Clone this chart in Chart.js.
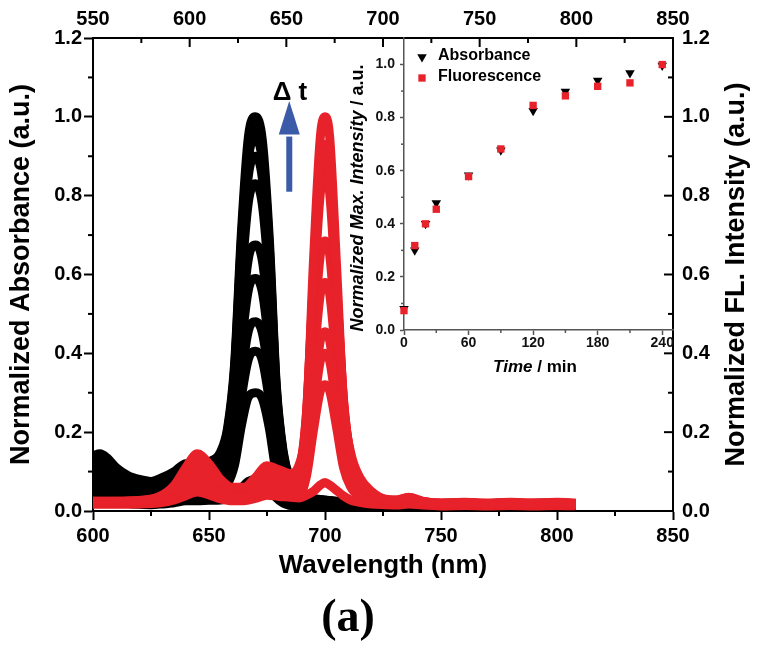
<!DOCTYPE html>
<html>
<head>
<meta charset="utf-8">
<script src="https://cdn.jsdelivr.net/npm/chart.js@4.4.1/dist/chart.umd.min.js"></script>
<style>
html,body{margin:0;padding:0;background:#fff;}
#wrap{position:relative;width:760px;height:652px;}
#wrap canvas{position:absolute;left:0;top:0;}
</style>
</head>
<body>
<div id="wrap">
<canvas id="mainChart" width="760" height="652"></canvas>
<canvas id="insetChart" width="760" height="652"></canvas>
</div>
<script>
// absorbance spectra (black), one row per time point
const absWl = [600,603,606,610,615,620,625,630,635,640,645,650,655,658,661,664,667,670,673,676,679,682,685,688,692,697,705,715,725,735,745,755,765,775,785,795,808];
const absSpectra = [
[.14,.145,.135,.11,.09,.08,.075,.085,.1,.12,.12,.125, .15,.21,.37,.71,.95,1.0,.94,.69,.32,.15,.08,.05,.035, .03,.025,.022,.02,.02,.018,.02,.017,.02,.018,.02,.017],
[.135,.14,.13,.106,.087,.077,.072,.082,.096,.116,.116,.12, .145,.203,.358,.688,.921,.97,.912,.669,.311,.145,.077,.048,.034, .029,.024,.021,.02,.019,.018,.019,.017,.019,.018,.019,.017],
[.13,.135,.125,.102,.084,.074,.07,.079,.093,.111,.111,.116, .139,.197,.348,.67,.896,.945,.888,.651,.302,.141,.075,.047,.033, .028,.024,.02,.019,.019,.017,.018,.016,.018,.017,.018,.016],
[.12,.124,.116,.094,.077,.069,.064,.073,.086,.103,.103,.107, .13,.184,.329,.635,.852,.90,.843,.619,.286,.134,.071,.044,.032, .027,.023,.02,.019,.018,.017,.018,.016,.017,.016,.018,.016],
[.11,.114,.106,.086,.071,.063,.059,.067,.079,.094,.094,.098, .119,.169,.303,.586,.785,.83,.777,.57,.263,.124,.066,.041,.029, .025,.022,.019,.018,.018,.016,.017,.015,.017,.016,.017,.015],
[.095,.098,.092,.075,.061,.054,.051,.058,.068,.081,.081,.085, .101,.143,.25,.48,.641,.675,.635,.466,.216,.101,.054,.034,.025, .022,.02,.018,.017,.017,.015,.016,.014,.016,.015,.016,.014],
[.085,.088,.082,.067,.055,.049,.046,.052,.061,.073,.073,.076, .091,.126,.22,.421,.562,.59,.555,.408,.189,.089,.047,.03,.023, .021,.019,.017,.016,.016,.014,.015,.014,.015,.014,.015,.013],
[.07,.073,.068,.055,.045,.04,.038,.043,.05,.06,.06,.063, .074,.103,.18,.343,.458,.48,.452,.332,.154,.073,.039,.024,.019, .018,.017,.015,.015,.015,.013,.014,.012,.014,.013,.014,.012],
[.06,.062,.058,.047,.039,.034,.032,.036,.043,.051,.051,.054, .063,.088,.152,.29,.386,.405,.382,.28,.13,.062,.033,.021,.017, .017,.016,.014,.014,.014,.012,.013,.012,.013,.012,.013,.011],
[.05,.052,.048,.039,.032,.029,.027,.03,.036,.043,.043,.045, .052,.069,.117,.218,.29,.30,.285,.21,.098,.047,.026,.016,.015, .015,.014,.013,.013,.013,.011,.012,.011,.012,.011,.012,.01],
[.03,.031,.029,.024,.019,.017,.016,.018,.021,.026,.026,.027, .028,.032,.043,.058,.075,.08,.075,.058,.034,.02,.014,.01,.009, .008,.008,.007,.007,.007,.006,.007,.006,.007,.006,.007,.006]
];

// fluorescence spectra (red)
const flWl = [600,610,620,628,635,640,645,650,655,660,665,670,675,680,685,689,692,695,698,700,702,705,708,711,715,720,726,731,736,742,750,760,770,780,790,800,808];
const flSpectra = [
[.025,.025,.027,.035,.065,.11,.145,.12,.08,.06,.06,.085,.115,.105,.095, .12,.23,.63,.95,1.0,.95,.62,.27,.15,.085,.05, .03,.028,.035,.025,.02,.022,.02,.022,.02,.022,.02],
[.025,.025,.026,.034,.062,.105,.138,.114,.077,.058,.058,.081,.11,.1,.091, .113,.248,.587,.884,.93,.884,.578,.28,.141,.08,.048, .029,.027,.034,.024,.02,.021,.019,.021,.02,.021,.019],
[.024,.024,.026,.033,.06,.1,.132,.11,.074,.056,.056,.078,.105,.096,.087, .109,.243,.579,.875,.92,.875,.572,.278,.14,.079,.047, .028,.027,.033,.024,.019,.021,.019,.02,.019,.021,.019],
[.023,.023,.025,.032,.057,.096,.126,.104,.07,.053,.053,.074,.1,.091,.083, .105,.233,.557,.841,.885,.841,.551,.268,.135,.077,.046, .028,.026,.032,.023,.019,.02,.018,.02,.019,.02,.018],
[.023,.023,.025,.031,.055,.091,.119,.099,.067,.051,.051,.071,.095,.087,.079, .1,.223,.534,.807,.85,.807,.53,.258,.13,.075,.045, .027,.026,.031,.023,.019,.02,.018,.019,.018,.02,.018],
[.022,.022,.023,.029,.05,.082,.106,.089,.061,.047,.047,.064,.085,.078,.071, .083,.183,.432,.651,.685,.651,.431,.212,.109,.063,.039, .025,.024,.028,.021,.018,.019,.017,.018,.017,.019,.017],
[.021,.021,.022,.027,.045,.072,.093,.078,.054,.042,.042,.057,.075,.069,.063, .071,.155,.366,.551,.58,.551,.368,.182,.095,.056,.035, .024,.023,.026,.02,.017,.018,.016,.017,.016,.018,.016],
[.02,.02,.021,.025,.04,.063,.08,.068,.048,.038,.038,.05,.065,.06,.055, .057,.123,.288,.433,.455,.433,.293,.147,.079,.047,.031, .022,.021,.024,.019,.016,.017,.015,.016,.015,.017,.015],
[.02,.02,.02,.024,.038,.058,.074,.062,.044,.035,.035,.047,.06,.056,.051, .051,.108,.254,.381,.40,.381,.26,.132,.072,.043,.029, .021,.02,.023,.018,.016,.016,.015,.016,.015,.016,.015],
[.019,.019,.02,.023,.035,.053,.067,.057,.041,.033,.033,.043,.055,.051,.047, .042,.088,.204,.305,.32,.305,.212,.11,.062,.037,.026, .02,.019,.022,.017,.015,.016,.014,.015,.014,.016,.014],
[.017,.017,.018,.02,.028,.039,.048,.041,.031,.026,.026,.032,.04,.037,.035, .033,.04,.05,.066,.072,.066,.052,.038,.028,.022,.018, .016,.015,.018,.015,.013,.014,.013,.014,.013,.014,.013]
];

// inset: normalized maximum vs time
const times = [0,10,20,30,60,90,120,150,180,210,240];
const absMax = [0.08,0.30,0.40,0.478,0.583,0.677,0.826,0.898,0.94,0.968,0.996];
const flMax = [0.073,0.318,0.40,0.455,0.578,0.682,0.846,0.882,0.918,0.931,1.0];

// tick values
const wlMinor = [625,675,725,775,825];
const topMajor = [550,600,650,700,750,800,850];
const topMinor = [575,625,675,725,775,825];
const yMajor = [0,0.2,0.4,0.6,0.8,1.0,1.2];
const yMinor = [0.1,0.3,0.5,0.7,0.9,1.1];
const tMinor = [30,90,150,210];
const insetYMinor = [0.1,0.3,0.5,0.7,0.9];

const RED = '#e8222a';
const BLUE = '#3b5ba9';
const FONT = '"Liberation Sans", Arial, sans-serif';

Chart.defaults.font.family = FONT;
Chart.defaults.color = '#000';

const absDatasets = absSpectra.map(vals => ({
  data: vals.map((v, i) => ({x: absWl[i], y: v})),
  borderColor: '#000',
  borderWidth: 9,
  pointRadius: 0,
  cubicInterpolationMode: 'monotone',
  fill: false,
  order: 2
}));

const flDatasets = flSpectra.map(vals => ({
  data: vals.map((v, i) => ({x: flWl[i], y: v})),
  borderColor: RED,
  borderWidth: 9,
  pointRadius: 0,
  cubicInterpolationMode: 'monotone',
  fill: false,
  order: 1
}));

function line(ctx, x1, y1, x2, y2){
  ctx.beginPath();
  ctx.moveTo(x1, y1);
  ctx.lineTo(x2, y2);
  ctx.stroke();
}

const mainDecor = {
  id: 'mainDecor',
  afterDraw(chart){
    const ctx = chart.ctx;
    const a = chart.chartArea;
    const sx = chart.scales.x, sx2 = chart.scales.x2, sy = chart.scales.y, sy2 = chart.scales.y2;
    ctx.save();
    ctx.strokeStyle = '#000';
    ctx.lineWidth = 2;
    wlMinor.forEach(v => { const p = sx.getPixelForValue(v); line(ctx, p, a.bottom, p, a.bottom + 5); });
    yMinor.forEach(v => { const p = sy.getPixelForValue(v); line(ctx, a.left - 5, p, a.left, p); });
    topMajor.forEach(v => { const p = sx2.getPixelForValue(v); line(ctx, p, a.top, p, a.top + 9); });
    topMinor.forEach(v => { const p = sx2.getPixelForValue(v); line(ctx, p, a.top, p, a.top + 5); });
    yMajor.forEach(v => { const p = sy2.getPixelForValue(v); line(ctx, a.right - 9, p, a.right, p); });
    yMinor.forEach(v => { const p = sy2.getPixelForValue(v); line(ctx, a.right - 5, p, a.right, p); });

    // right axis title, reading bottom to top
    ctx.save();
    ctx.translate(737, (a.top + a.bottom) / 2);
    ctx.rotate(-Math.PI / 2);
    ctx.font = 'bold 27px ' + FONT;
    ctx.fillStyle = '#000';
    ctx.textAlign = 'center';
    ctx.textBaseline = 'middle';
    ctx.fillText('Normalized FL. Intensity (a.u.)', 0, 0);
    ctx.restore();

    // time arrow
    const ax = sx.getPixelForValue(684.6);
    const yBot = sy.getPixelForValue(0.81);
    const yBase = sy.getPixelForValue(0.955);
    const yTip = sy.getPixelForValue(1.04);
    ctx.strokeStyle = BLUE;
    ctx.fillStyle = BLUE;
    ctx.lineWidth = 6;
    line(ctx, ax, yBot, ax, yBase + 2);
    ctx.beginPath();
    ctx.moveTo(ax - 10.5, yBase);
    ctx.lineTo(ax + 10.5, yBase);
    ctx.lineTo(ax, yTip);
    ctx.closePath();
    ctx.fill();

    ctx.fillStyle = '#000';
    ctx.font = 'bold 26px ' + FONT;
    ctx.textAlign = 'center';
    ctx.textBaseline = 'alphabetic';
    ctx.fillText('\u0394 t', sx.getPixelForValue(684.9), sy.getPixelForValue(1.043));

    ctx.font = 'bold 46px "Liberation Serif", "Times New Roman", serif';
    ctx.fillText('(a)', 348, 631);
    ctx.restore();
  }
};

new Chart(document.getElementById('mainChart'), {
  type: 'line',
  data: { datasets: absDatasets.concat(flDatasets) },
  options: {
    responsive: false,
    animation: false,
    devicePixelRatio: 1,
    events: [],
    layout: { padding: 0 },
    plugins: { legend: { display: false }, tooltip: { enabled: false } },
    scales: {
      x: {
        type: 'linear', position: 'bottom', min: 600, max: 850,
        ticks: { stepSize: 50, autoSkip: false, maxRotation: 0, padding: 4, font: { size: 20, weight: 'bold' }, color: '#000' },
        grid: { drawOnChartArea: false, tickLength: 9, tickWidth: 2, tickColor: '#000' },
        border: { color: '#000', width: 2 },
        title: { display: true, text: 'Wavelength (nm)', color: '#000', font: { size: 26, weight: 'bold' }, padding: { top: 0, bottom: 71 } },
        afterFit: s => { s.height = 141; }
      },
      x2: {
        type: 'linear', position: 'top', min: 550, max: 850,
        ticks: { stepSize: 50, autoSkip: false, maxRotation: 0, padding: 7, font: { size: 20, weight: 'bold' }, color: '#000' },
        grid: { drawOnChartArea: false, drawTicks: false },
        border: { color: '#000', width: 2 },
        afterFit: s => { s.height = 38; }
      },
      y: {
        type: 'linear', position: 'left', min: 0, max: 1.2,
        ticks: { stepSize: 0.2, padding: 2, font: { size: 20, weight: 'bold' }, color: '#000', callback: v => v.toFixed(1) },
        grid: { drawOnChartArea: false, tickLength: 9, tickWidth: 2, tickColor: '#000' },
        border: { color: '#000', width: 2 },
        title: { display: true, text: 'Normalized Absorbance (a.u.)', color: '#000', font: { size: 27, weight: 'bold' }, padding: { top: 5, bottom: 0 } },
        afterFit: s => { s.width = 93; }
      },
      y2: {
        type: 'linear', position: 'right', min: 0, max: 1.2,
        ticks: { stepSize: 0.2, padding: 9, font: { size: 20, weight: 'bold' }, color: '#000', callback: v => v.toFixed(1) },
        grid: { drawOnChartArea: false, drawTicks: false },
        border: { color: '#000', width: 2 },
        afterFit: s => { s.width = 87; }
      }
    }
  },
  plugins: [mainDecor]
});

const insetDecor = {
  id: 'insetDecor',
  afterDraw(chart){
    const ctx = chart.ctx;
    const a = chart.chartArea;
    const sx = chart.scales.x, sy = chart.scales.y;
    ctx.save();
    ctx.strokeStyle = '#555';
    ctx.lineWidth = 1.5;
    tMinor.forEach(v => { const p = sx.getPixelForValue(v); line(ctx, p, a.bottom, p, a.bottom + 3); });
    insetYMinor.forEach(v => { const p = sy.getPixelForValue(v); line(ctx, a.left - 3, p, a.left, p); });

    // legend
    const ds = chart.data.datasets;
    const rows = [[422, 57], [422, 78]];
    ctx.font = 'bold 16px ' + FONT;
    ctx.textBaseline = 'middle';
    ctx.textAlign = 'left';
    ds.forEach((d, i) => {
      ctx.fillStyle = d.backgroundColor;
      ctx.strokeStyle = d.backgroundColor;
      Chart.helpers.drawPoint(ctx, { pointStyle: d.pointStyle, rotation: d.pointRotation || 0, radius: d.pointRadius, borderWidth: 0 }, rows[i][0], rows[i][1]);
      ctx.fillStyle = '#000';
      ctx.fillText(d.label, 438, rows[i][1] - 1);
    });

    // axis titles with italic parts
    ctx.fillStyle = '#000';
    ctx.font = 'italic bold 17px ' + FONT;
    const t1 = ctx.measureText('Time').width;
    ctx.font = 'bold 17px ' + FONT;
    const t2 = ctx.measureText(' / min').width;
    let x0 = 535 - (t1 + t2) / 2;
    ctx.font = 'italic bold 17px ' + FONT;
    ctx.fillText('Time', x0, 367);
    ctx.font = 'bold 17px ' + FONT;
    ctx.fillText(' / min', x0 + t1, 367);

    ctx.save();
    ctx.translate(358, 198);
    ctx.rotate(-Math.PI / 2);
    ctx.font = 'italic bold 18px ' + FONT;
    const s1 = ctx.measureText('Normalized Max. Intensity').width;
    ctx.font = 'bold 18px ' + FONT;
    const s2 = ctx.measureText(' / a.u.').width;
    x0 = -(s1 + s2) / 2;
    ctx.font = 'italic bold 18px ' + FONT;
    ctx.fillText('Normalized Max. Intensity', x0, 0);
    ctx.font = 'bold 18px ' + FONT;
    ctx.fillText(' / a.u.', x0 + s1, 0);
    ctx.restore();
    ctx.restore();
  }
};

new Chart(document.getElementById('insetChart'), {
  type: 'scatter',
  data: {
    datasets: [
      {
        label: 'Absorbance',
        data: times.map((t, i) => ({x: t, y: absMax[i]})),
        pointStyle: 'triangle', pointRotation: 180, pointRadius: 5.5,
        backgroundColor: '#000', borderColor: '#000', borderWidth: 0,
        order: 2
      },
      {
        label: 'Fluorescence',
        data: times.map((t, i) => ({x: t, y: flMax[i]})),
        pointStyle: 'rect', pointRadius: 5.2,
        backgroundColor: RED, borderColor: RED, borderWidth: 0,
        order: 1
      }
    ]
  },
  options: {
    responsive: false,
    animation: false,
    devicePixelRatio: 1,
    events: [],
    clip: false,
    layout: { padding: { left: 354, right: 87, top: 38, bottom: 272 } },
    plugins: { legend: { display: false }, tooltip: { enabled: false } },
    scales: {
      x: {
        type: 'linear', position: 'bottom', min: 0, max: 250,
        ticks: { stepSize: 60, includeBounds: false, autoSkip: false, maxRotation: 0, padding: 0, font: { size: 14, weight: 'bold' }, color: '#111' },
        grid: { drawOnChartArea: false, tickLength: 5, tickWidth: 1.5, tickColor: '#555' },
        border: { color: '#555', width: 1.5 },
        afterFit: s => { s.height = 50; }
      },
      y: {
        type: 'linear', position: 'left', min: 0, max: 1.1,
        ticks: { stepSize: 0.2, includeBounds: false, padding: 5, font: { size: 14, weight: 'bold' }, color: '#111', callback: v => v.toFixed(1) },
        grid: { drawOnChartArea: false, tickLength: 4, tickWidth: 1.5, tickColor: '#555' },
        border: { color: '#555', width: 1.5 },
        afterFit: s => { s.width = 50; }
      }
    }
  },
  plugins: [insetDecor]
});
</script>
</body>
</html>
